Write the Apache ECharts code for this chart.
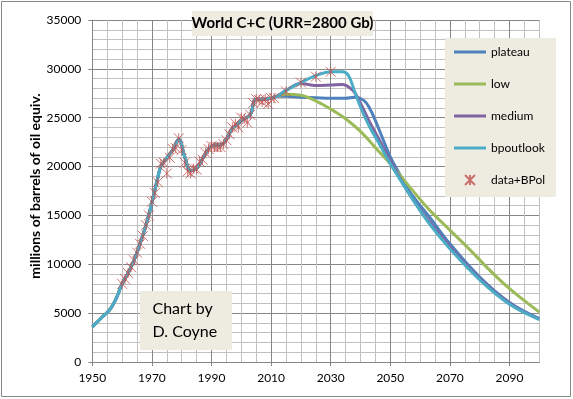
<!DOCTYPE html>
<html>
<head>
<meta charset="utf-8">
<script src="https://cdn.jsdelivr.net/npm/echarts@6/dist/echarts.min.js"></script>
<style>
  html, body { margin: 0; padding: 0; background: #fff; }
  #chart { width: 573px; height: 399px; }
</style>
</head>
<body>
<div id="chart"></div>
<script>
// history shared by all four scenario curves (smoothed fit)
const histYears = [1950, 1952, 1954, 1956, 1958, 1960, 1962, 1964, 1966, 1968, 1970, 1972, 1973, 1975, 1977, 1979,
  1981, 1983, 1985, 1987, 1989, 1991, 1993, 1995, 1997, 1999, 2001, 2003, 2005, 2008, 2010, 2012];
const histLine = [3600, 4200, 4800, 5400, 6500, 8000, 9100, 10400, 12100, 14000, 16300, 18900, 20000, 20900, 21700, 22800,
  21000, 19600, 19800, 20800, 21800, 22200, 22200, 22800, 23900, 24400, 24900, 25300, 26900, 26900, 27000, 27200];

// scenario projections
const plateauYears = [2015, 2020, 2025, 2030, 2035, 2038, 2041, 2043, 2045, 2047, 2050, 2053, 2057, 2063, 2070, 2080, 2090, 2100];
const plateauVals = [27200, 27100, 27050, 27000, 27000, 27100, 26800, 26000, 24700, 23200, 21000, 19300, 17200, 14900, 12100, 8700, 6100, 4450];

const lowYears = [2015, 2020, 2023, 2027, 2031, 2035, 2040, 2046, 2050, 2056, 2063, 2070, 2077, 2083, 2090, 2100];
const lowVals = [27400, 27300, 27000, 26400, 25700, 24900, 23600, 21600, 20300, 18100, 15600, 13500, 11400, 9500, 7500, 5100];

const mediumYears = [2015, 2020, 2025, 2030, 2034, 2036, 2038, 2040, 2043, 2046, 2050, 2057, 2063, 2070, 2080, 2090, 2100];
const mediumVals = [27800, 28500, 28300, 28350, 28400, 28150, 27600, 26500, 24600, 22900, 20600, 16900, 14400, 11800, 8500, 6000, 4400];

const bpYears = [2015, 2020, 2025, 2030, 2034, 2036, 2038, 2040, 2043, 2046, 2050, 2057, 2063, 2070, 2080, 2090, 2100];
const bpVals = [27800, 28600, 29300, 29700, 29700, 29300, 27700, 26100, 24100, 22500, 20300, 16900, 14200, 11600, 8400, 5900, 4350];

// data + BP outlook points
const dataYears = [1960, 1961, 1962, 1963, 1964, 1965, 1966, 1967, 1968, 1969, 1970, 1971, 1972, 1973, 1974, 1975,
  1976, 1977, 1978, 1979, 1980, 1981, 1982, 1983, 1984, 1985, 1986, 1987, 1988, 1989, 1990, 1991, 1992, 1993,
  1994, 1995, 1996, 1997, 1998, 1999, 2000, 2001, 2002, 2003, 2004, 2005, 2006, 2007, 2008, 2009, 2010, 2011,
  2015, 2020, 2025, 2030];
const dataVals = [8000, 8500, 9100, 9700, 10400, 11200, 12100, 12900, 14000, 15000, 16400, 17300, 18400, 20300, 20400, 19300,
  20900, 21800, 21900, 22900, 21700, 20400, 19500, 19300, 19800, 19700, 20500, 20700, 21400, 21800, 22100, 22000, 22000, 22000,
  22300, 22700, 23300, 24000, 24400, 24000, 25000, 24900, 24500, 25300, 26500, 26900, 26800, 26600, 26900, 26400, 27000, 27000,
  27700, 28600, 29200, 29700];

const FONT = 'Lato, "Liberation Sans", sans-serif';
const MAJOR = '#868686';
const MINOR = '#c0c0c0';
const STAR = 'path://M0,0L10,10M10,0L0,10M5,0L5,10';
const BAR = 'path://M0,0L32,0L32,3L0,3Z';

function pairs(xs, ys) {
  return xs.map((x, i) => [x, ys[i]]);
}

function scenario(years, vals) {
  return pairs(histYears, histLine).concat(pairs(years, vals));
}

function lineSeries(name, color, years, vals) {
  return {
    name: name,
    type: 'line',
    smooth: 0.4,
    symbol: 'none',
    xAxisIndex: 0,
    yAxisIndex: 0,
    lineStyle: { color: color, width: 3 },
    itemStyle: { color: color },
    data: scenario(years, vals)
  };
}

const chart = echarts.init(document.getElementById('chart'));

const option = {
  animation: false,
  backgroundColor: '#fff',
  textStyle: { fontFamily: FONT },
  grid: { left: 92.3, right: 33.7, top: 20, bottom: 37 },
  xAxis: [
    {
      type: 'value', min: 1950, max: 2100, interval: 5,
      axisLine: { show: true, lineStyle: { color: MAJOR } },
      axisTick: { show: false },
      axisLabel: { show: false },
      splitLine: { show: true, lineStyle: { color: [MAJOR, MINOR, MINOR, MINOR], width: 1 } }
    },
    {
      type: 'value', min: 1950, max: 2100, interval: 20, position: 'bottom',
      axisLine: { show: false },
      axisTick: { show: true, length: 4, lineStyle: { color: MAJOR } },
      axisLabel: {
        color: '#000', fontSize: 12, fontFamily: FONT, margin: 10,
        showMaxLabel: false,
        formatter: (v) => (v >= 2100 ? '' : String(v))
      },
      splitLine: { show: false }
    }
  ],
  yAxis: [
    {
      type: 'value', min: 0, max: 35000, interval: 1000,
      axisLine: { show: true, lineStyle: { color: MAJOR } },
      axisTick: { show: false },
      axisLabel: { show: false },
      splitLine: { show: true, lineStyle: { color: [MAJOR, MINOR, MINOR, MINOR, MINOR], width: 1 } }
    },
    {
      type: 'value', min: 0, max: 35000, interval: 5000, position: 'left',
      axisLine: { show: false },
      axisTick: { show: true, length: 4, lineStyle: { color: MAJOR } },
      axisLabel: { color: '#000', fontSize: 12, fontFamily: FONT, margin: 11, formatter: (v) => String(v) },
      splitLine: { show: false }
    }
  ],
  legend: {
    orient: 'vertical',
    left: 445,
    top: 38,
    padding: [8, 11, 11, 9],
    backgroundColor: '#EEECE1',
    itemWidth: 32,
    itemHeight: 10,
    itemGap: 20,
    textStyle: { color: '#000', fontSize: 12, fontFamily: FONT },
    data: [
      { name: 'plateau', icon: BAR, itemStyle: { borderWidth: 0 } },
      { name: 'low', icon: BAR, itemStyle: { borderWidth: 0 } },
      { name: 'medium', icon: BAR, itemStyle: { borderWidth: 0 } },
      { name: 'bpoutlook', icon: BAR, itemStyle: { borderWidth: 0 } },
      { name: 'data+BPol', icon: STAR }
    ]
  },
  graphic: [
    // outer chart frame
    {
      type: 'rect', shape: { x: 1.5, y: 1.5, width: 569, height: 395 },
      style: { fill: 'none', stroke: MAJOR, lineWidth: 1 }, silent: true, z: 100
    },
    // title box
    {
      type: 'rect', shape: { x: 192, y: 11, width: 181, height: 25 },
      style: { fill: '#EEECE1' }, z: 100
    },
    {
      type: 'text', x: 282.5, y: 23.5, z: 101,
      style: {
        text: 'World C+C (URR=2800 Gb)', fill: '#000',
        font: 'bold 15px ' + FONT, align: 'center', verticalAlign: 'middle'
      }
    },
    // author box
    {
      type: 'rect', shape: { x: 140, y: 291, width: 92, height: 59 },
      style: { fill: '#EEECE1' }, z: 100
    },
    {
      type: 'text', x: 152.5, y: 320.5, z: 101,
      style: {
        text: 'Chart by\nD. Coyne', fill: '#000', lineHeight: 23,
        font: '16px ' + FONT, align: 'left', verticalAlign: 'middle'
      }
    },
    // y axis title
    {
      type: 'text', x: 35, y: 186, rotation: Math.PI / 2, z: 101,
      style: {
        text: 'millions of barrels of oil equiv.', fill: '#000',
        font: 'bold 14px ' + FONT, align: 'center', verticalAlign: 'middle'
      }
    }
  ],
  series: [
    lineSeries('plateau', '#4F81BD', plateauYears, plateauVals),
    lineSeries('low', '#9BBB59', lowYears, lowVals),
    lineSeries('medium', '#8064A2', mediumYears, mediumVals),
    lineSeries('bpoutlook', '#4BACC6', bpYears, bpVals),
    {
      name: 'data+BPol',
      type: 'scatter',
      xAxisIndex: 0,
      yAxisIndex: 0,
      symbol: STAR,
      symbolSize: 10,
      itemStyle: { color: 'rgba(0,0,0,0)', borderColor: '#C0504D', borderWidth: 1 },
      data: pairs(dataYears, dataVals),
      z: 5
    }
  ]
};

chart.setOption(option);
</script>
</body>
</html>
